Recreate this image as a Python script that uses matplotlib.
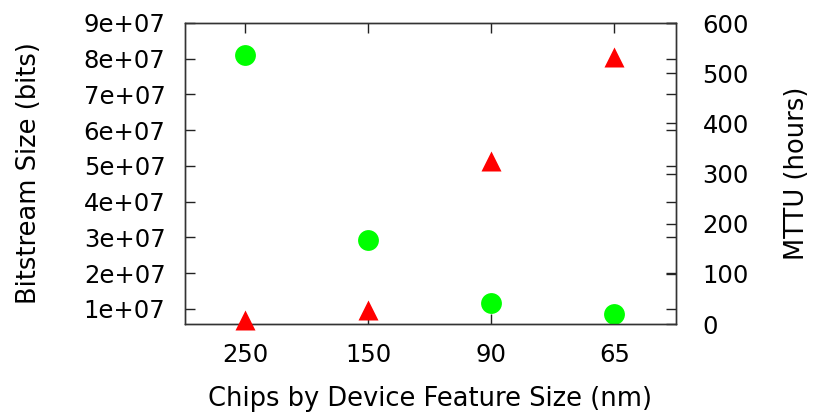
import matplotlib.pyplot as plt
import numpy as np

plt.rcParams['font.family'] = ['DejaVu Sans']

chips = ['250', '150', '90', '65']
bitstream = [8.11e7, 2.93e7, 1.17e7, 0.86e7]  # bits, left axis
mttu = [8, 28, 325, 533]                       # hours, right axis

x = np.arange(len(chips))

fig = plt.figure(figsize=(8.14, 4.15), dpi=100)
ax = fig.add_axes([185 / 814, 1 - 324 / 415, (676 - 185) / 814, (324 - 23) / 415])
ax2 = ax.twinx()

ax.plot(x, bitstream, 'o', color='#00ff00', ms=15, mec='none', zorder=3, clip_on=False)
ax2.plot(x, mttu, '^', color='#ff0000', ms=14, mec='none', zorder=3, clip_on=False)

ax.set_xlim(-0.49, 3.5)
ax.set_ylim(0.58e7, 9e7)
ax2.set_ylim(0, 600)

ax.set_xticks(x)
ax.set_xticklabels(chips)
yt = np.arange(1, 10) * 1e7
ax.set_yticks(yt)
ax.set_yticklabels(['%de+07' % i for i in range(1, 10)])
ax2.set_yticks(np.arange(0, 700, 100))

fs = 17.5
ax.tick_params(axis='both', direction='in', length=7, width=1, labelsize=fs,
               top=True, right=True, color='#222222')
ax.tick_params(axis='y', pad=14)
ax.tick_params(axis='x', pad=14)
ax2.tick_params(axis='y', direction='in', length=7, width=1, labelsize=fs,
                pad=19, color='#222222')

for a in (ax, ax2):
    for s in a.spines.values():
        s.set_linewidth(1)
        s.set_color('#333333')

lfs = 18.5
ax.set_ylabel('Bitstream Size (bits)', fontsize=lfs, labelpad=30)
ax2.set_ylabel('MTTU (hours)', fontsize=lfs, labelpad=25)
ax.set_xlabel('Chips by Device Feature Size (nm)', fontsize=lfs, labelpad=13)

fig.savefig('out.png', dpi=100)
